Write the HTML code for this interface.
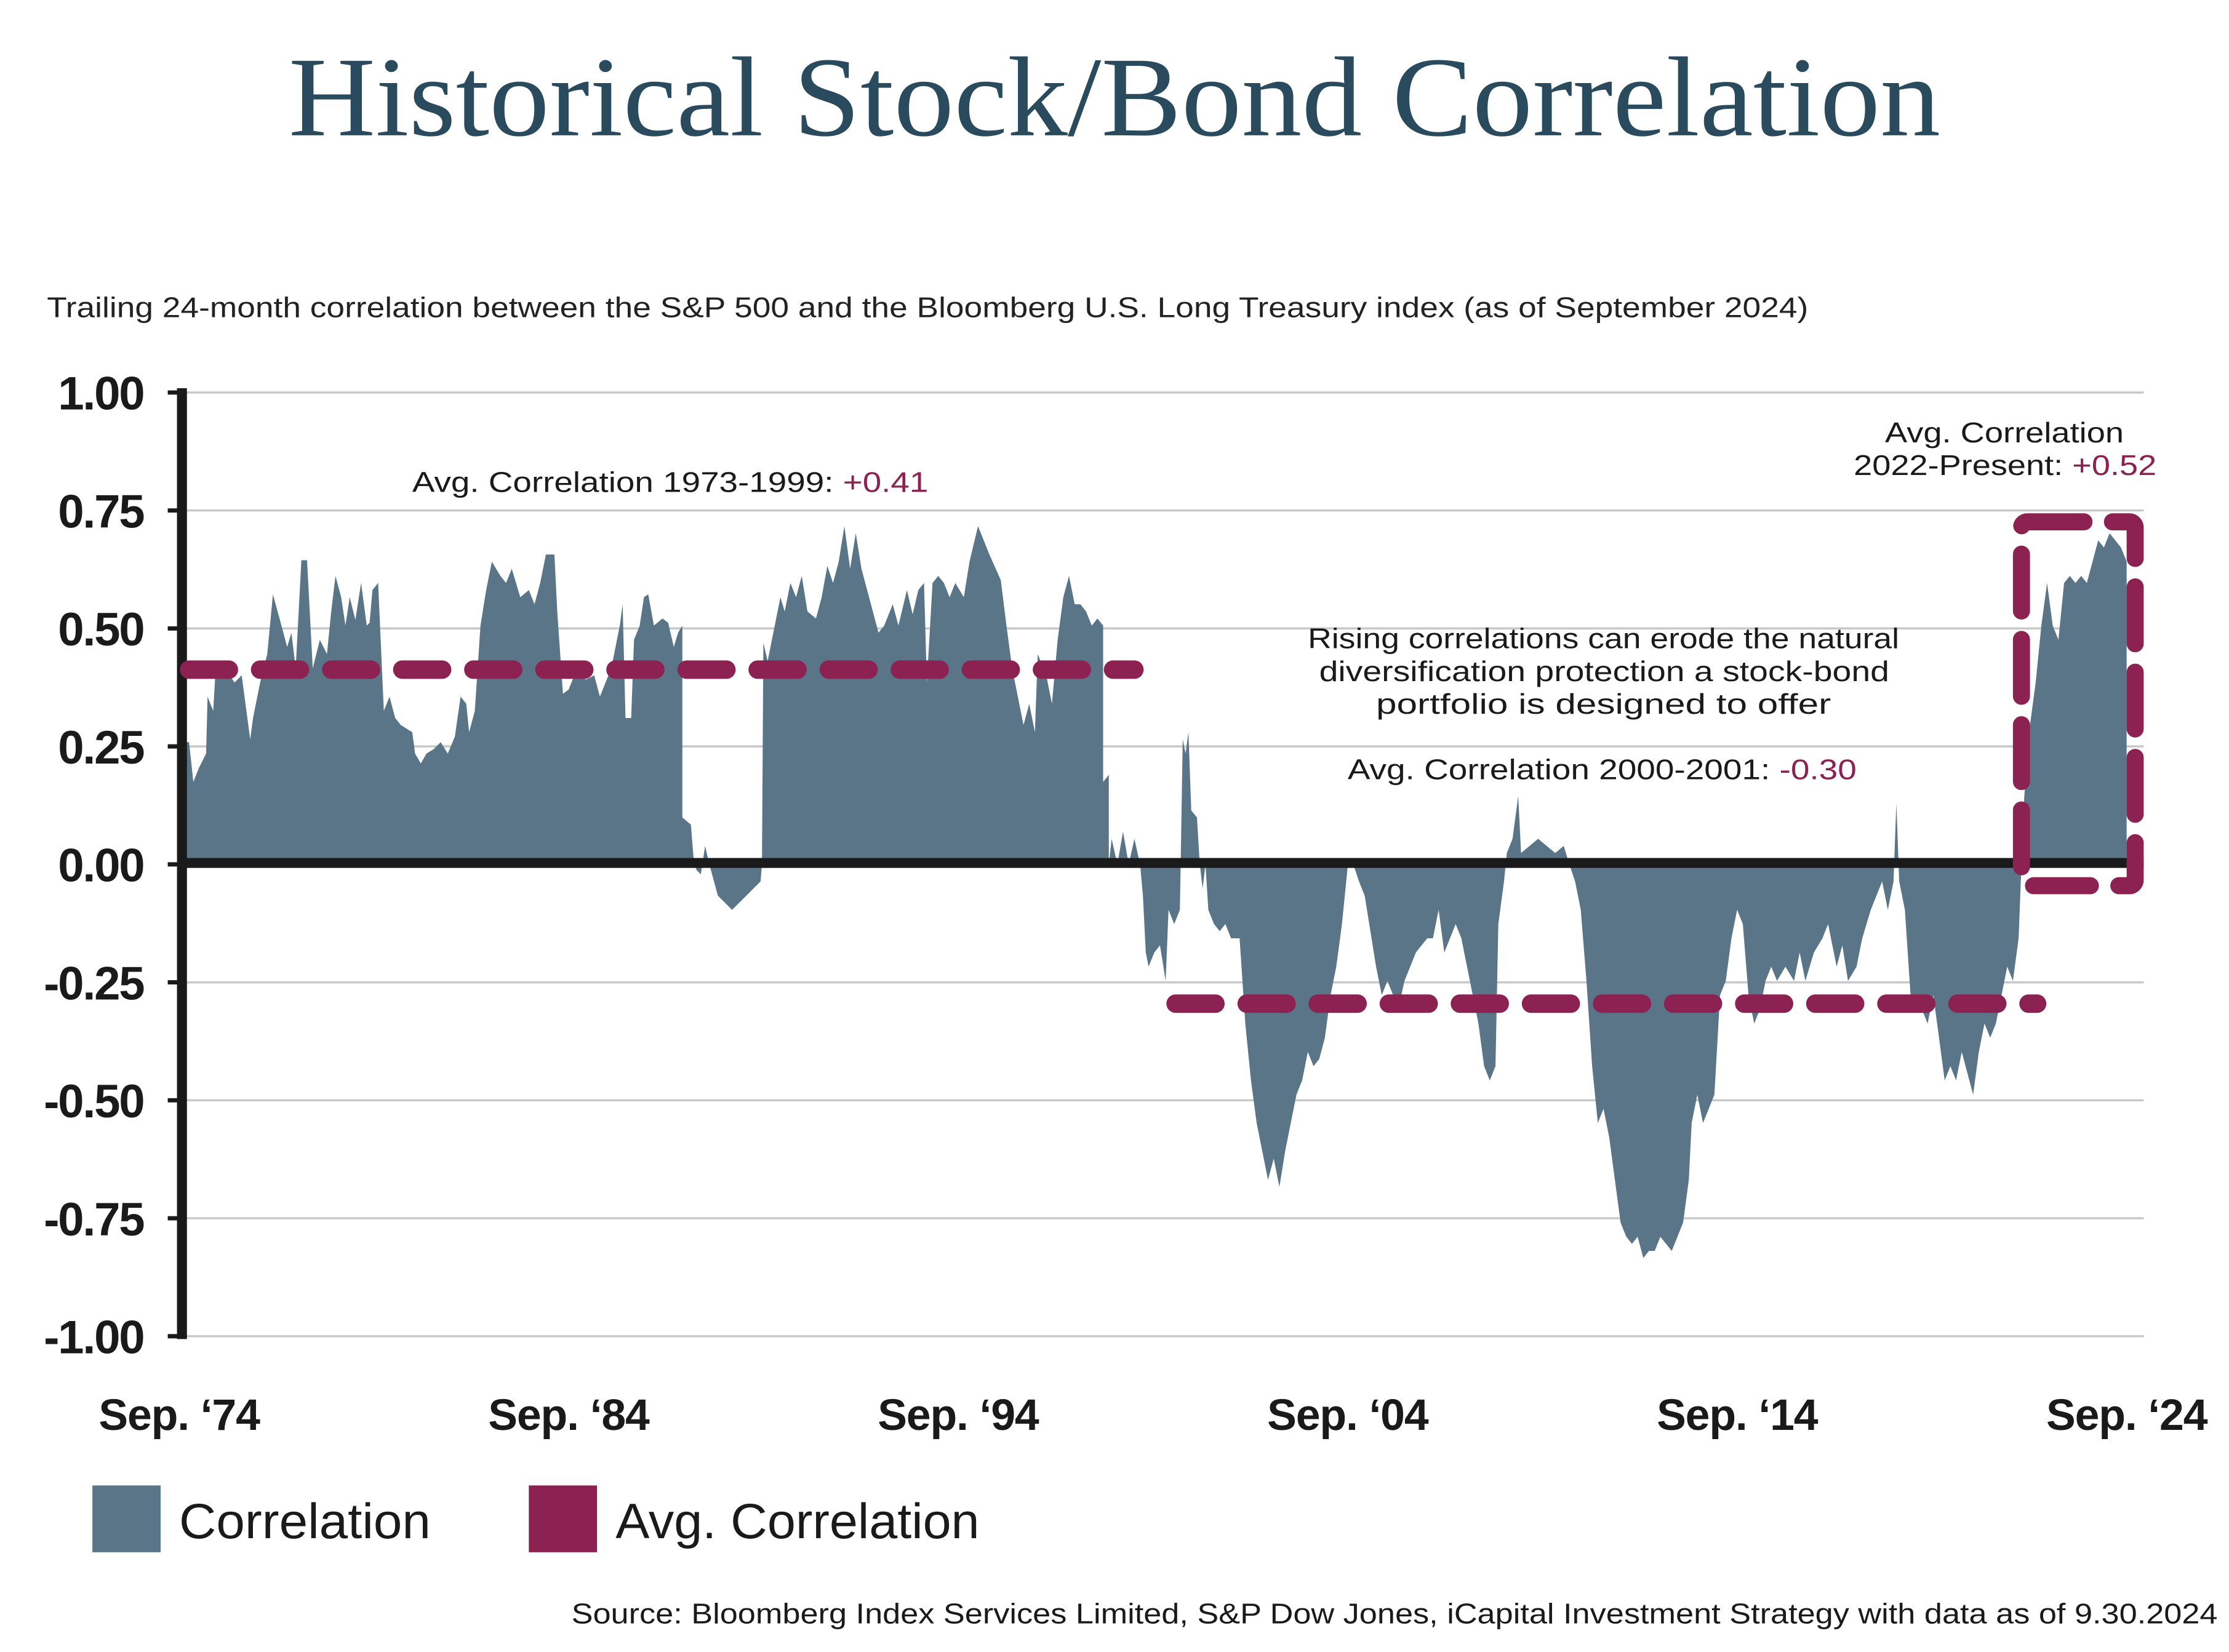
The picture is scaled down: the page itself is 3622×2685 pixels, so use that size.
<!DOCTYPE html>
<html><head><meta charset="utf-8"><style>
html,body{margin:0;padding:0;background:#fff;}
svg{display:block;}
text{font-family:"Liberation Sans",sans-serif;}
</style></head><body>
<svg width="3622" height="2685" viewBox="0 0 1568 1162" xmlns="http://www.w3.org/2000/svg">
<rect width="1568" height="1162" fill="#fff"/>
<text x="203" y="95" textLength="1162" lengthAdjust="spacingAndGlyphs" style="font-family:'Liberation Serif',serif" font-size="80" fill="#2a4a5e">Historical Stock/Bond Correlation</text>
<text x="33" y="223" font-size="20" fill="#222" textLength="1239" lengthAdjust="spacingAndGlyphs">Trailing 24-month correlation between the S&amp;P 500 and the Bloomberg U.S. Long Treasury index (as of September 2024)</text>
<g stroke="#c8c8c8" stroke-width="1.5">
<line x1="128" y1="276" x2="1508" y2="276"/><line x1="128" y1="359" x2="1508" y2="359"/>
<line x1="128" y1="442" x2="1508" y2="442"/><line x1="128" y1="525" x2="1508" y2="525"/>
<line x1="128" y1="691" x2="1508" y2="691"/><line x1="128" y1="774" x2="1508" y2="774"/>
<line x1="128" y1="857" x2="1508" y2="857"/><line x1="128" y1="940" x2="1508" y2="940"/>
</g>
<path fill="#5a7587" d="M130,608 L130,522 133,522 136,550 140,540 145,530 146,490 150,500 152,465 158,470 165,480 170,475 172,490 176,520 178,505 183,480 188,460 192,418 198,440 202,455 205,445 208,470 212,394 216,394 220,470 225,450 230,460 233,430 236,405 240,420 243,440 246,420 250,436 254,410 258,440 260,438 262,415 266,410 270,500 274,490 278,505 282,510 290,515 292,530 296,537 300,530 305,527 310,522 315,530 320,518 324,490 328,495 330,515 334,500 338,440 342,415 346,395 352,405 356,410 360,400 366,420 372,415 376,425 380,410 384,390 390,390 392,430 396,488 400,485 406,470 412,478 418,475 422,490 430,470 436,440 438,425 440,505 444,505 446,450 450,440 453,420 456,418 460,440 466,435 470,438 474,455 477,445 480,440 480,575 486,580 488,605 490,612 493,615 496,595 499,608 505,630 510,635 515,640 520,635 530,625 535,620 536,608 537,452 540,465 545,440 549,420 552,430 556,410 560,420 564,405 568,430 574,435 578,420 582,398 586,410 590,395 594,370 598,400 602,375 606,400 610,415 614,430 618,445 622,440 628,425 632,440 638,415 642,432 646,415 650,410 652,480 656,410 660,405 664,410 668,420 672,410 678,420 682,395 688,370 696,390 704,408 708,440 712,470 716,490 720,510 724,495 728,515 730,460 736,475 740,495 744,450 748,420 752,405 756,425 760,425 764,430 768,440 772,435 776,440 776,550 780,545 780,608 782,590 786,608 790,585 794,608 798,590 802,608 804,630 806,670 808,680 812,670 816,665 820,690 822,640 826,650 830,640 832,520 834,530 836,515 838,570 842,575 844,608 846,625 848,608 850,640 854,650 858,655 862,650 866,660 872,660 876,720 880,760 884,790 888,810 892,830 896,815 900,835 904,810 908,790 912,770 916,760 920,740 924,750 928,745 932,730 936,700 940,680 944,650 948,610 952,608 956,620 960,630 964,655 968,680 972,700 976,690 980,700 984,708 988,690 992,680 996,670 1000,665 1004,660 1008,660 1012,640 1016,670 1020,660 1024,650 1028,660 1032,680 1036,700 1040,720 1044,750 1048,760 1052,750 1054,650 1058,620 1060,600 1064,590 1068,560 1070,600 1076,595 1082,590 1088,595 1094,600 1100,595 1104,608 1108,620 1112,640 1116,690 1120,750 1124,790 1128,780 1132,800 1136,830 1140,860 1144,870 1148,875 1152,870 1156,885 1160,880 1164,880 1168,870 1172,875 1176,880 1180,870 1184,860 1188,830 1190,790 1194,770 1198,790 1202,780 1206,770 1210,700 1214,690 1218,660 1222,640 1226,650 1230,700 1234,720 1238,710 1242,690 1246,680 1250,690 1256,680 1262,690 1266,670 1270,690 1276,670 1282,660 1286,650 1292,680 1296,665 1300,690 1306,680 1310,660 1316,640 1320,630 1324,620 1328,640 1332,620 1334,565 1336,620 1340,640 1344,700 1348,710 1352,710 1356,720 1360,700 1364,730 1368,760 1372,750 1376,760 1380,740 1384,755 1388,770 1392,740 1396,720 1400,730 1404,720 1408,700 1412,680 1416,690 1420,660 1422,608 1424,560 1428,510 1432,480 1436,440 1440,410 1444,440 1448,450 1452,410 1456,405 1460,410 1464,405 1468,410 1472,395 1476,380 1480,385 1484,375 1488,380 1492,385 1496,395 1496,608 Z"/>
<line x1="128" y1="607" x2="1508" y2="607" stroke="#1a1a1a" stroke-width="7"/>
<line x1="128" y1="273" x2="128" y2="942" stroke="#1a1a1a" stroke-width="7"/>
<g stroke="#1a1a1a" stroke-width="3">
<line x1="118" y1="276" x2="128" y2="276"/><line x1="118" y1="359" x2="128" y2="359"/><line x1="118" y1="442" x2="128" y2="442"/><line x1="118" y1="525" x2="128" y2="525"/><line x1="118" y1="608" x2="128" y2="608"/><line x1="118" y1="691" x2="128" y2="691"/><line x1="118" y1="774" x2="128" y2="774"/><line x1="118" y1="857" x2="128" y2="857"/><line x1="118" y1="940" x2="128" y2="940"/>
</g>
<g font-size="33" font-weight="bold" fill="#1a1a1a" text-anchor="end" letter-spacing="-1">
<text x="101" y="288">1.00</text><text x="101" y="371">0.75</text><text x="101" y="454">0.50</text><text x="101" y="537">0.25</text><text x="101" y="620">0.00</text><text x="101" y="703">-0.25</text><text x="101" y="786">-0.50</text><text x="101" y="869">-0.75</text><text x="101" y="952">-1.00</text>
</g>
<g font-size="31" font-weight="bold" fill="#1a1a1a" text-anchor="middle" letter-spacing="-0.5">
<text x="126" y="1006">Sep. ‘74</text><text x="400" y="1006">Sep. ‘84</text><text x="674" y="1006">Sep. ‘94</text><text x="948" y="1006">Sep. ‘04</text><text x="1222" y="1006">Sep. ‘14</text><text x="1496" y="1006">Sep. ‘24</text>
</g>
<g stroke="#8b2252" stroke-width="13" stroke-linecap="round" fill="none" stroke-dasharray="28,22">
<line x1="133" y1="471" x2="798" y2="471"/>
<line x1="827" y1="706" x2="1433" y2="706"/>
</g>
<rect x="1422" y="367" width="80" height="256" rx="4" fill="none" stroke="#8b2252" stroke-width="12" stroke-dasharray="40,20" stroke-linecap="round"/>
<g font-size="20" fill="#1a1a1a">
<text x="290" y="346" textLength="363" lengthAdjust="spacingAndGlyphs">Avg. Correlation 1973-1999: <tspan fill="#8b2252">+0.41</tspan></text>
<text x="920" y="456" textLength="416" lengthAdjust="spacingAndGlyphs">Rising correlations can erode the natural</text>
<text x="928" y="479" textLength="401" lengthAdjust="spacingAndGlyphs">diversification protection a stock-bond</text>
<text x="968" y="502" textLength="320" lengthAdjust="spacingAndGlyphs">portfolio is designed to offer</text>
<text x="948" y="548" textLength="358" lengthAdjust="spacingAndGlyphs">Avg. Correlation 2000-2001: <tspan fill="#8b2252">-0.30</tspan></text>
<text x="1326" y="311" textLength="168" lengthAdjust="spacingAndGlyphs">Avg. Correlation</text>
<text x="1304" y="334" textLength="213" lengthAdjust="spacingAndGlyphs">2022-Present: <tspan fill="#8b2252">+0.52</tspan></text>
</g>
<rect x="65" y="1045" width="48" height="47" fill="#5a7587"/>
<text x="126" y="1082" font-size="35" fill="#1a1a1a" textLength="177" lengthAdjust="spacingAndGlyphs">Correlation</text>
<rect x="372" y="1045" width="48" height="47" fill="#8b2252"/>
<text x="433" y="1082" font-size="35" fill="#1a1a1a" textLength="256" lengthAdjust="spacingAndGlyphs">Avg. Correlation</text>
<text x="402" y="1142" font-size="20" fill="#1a1a1a" textLength="1158" lengthAdjust="spacingAndGlyphs">Source: Bloomberg Index Services Limited, S&amp;P Dow Jones, iCapital Investment Strategy with data as of 9.30.2024</text>
</svg>
</body></html>
